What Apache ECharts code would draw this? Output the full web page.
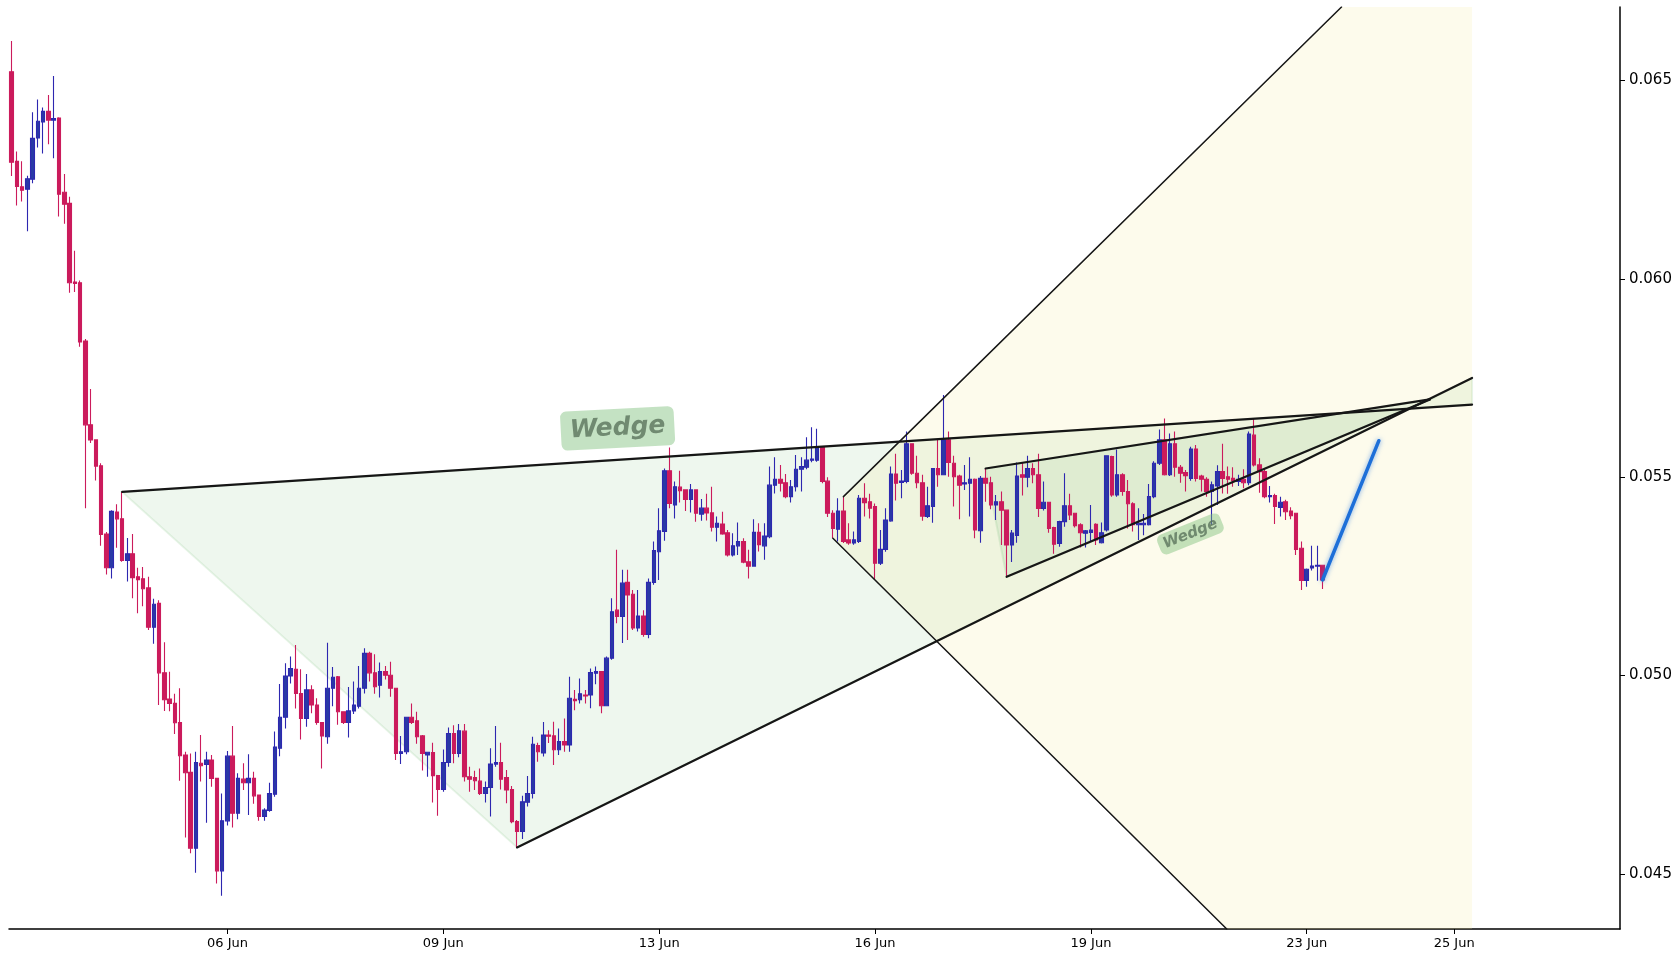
<!DOCTYPE html>
<html><head><meta charset="utf-8">
<script src="https://cdn.jsdelivr.net/npm/echarts@6/dist/echarts.min.js"></script>
<style>html,body{margin:0;padding:0;background:#fff}#c{width:1680px;height:960px}</style>
</head><body><div id="c"></div>
<script>
// ---- candle data (index = candle number) ----
const opens = [0.06522,0.06296,0.06232,0.06226,0.06251,0.06355,0.06395,0.06422,0.06400,0.06405,0.06218,0.06190,0.05992,0.05990,0.05843,0.05632,0.05594,0.05529,0.05357,0.05272,0.05412,0.05395,0.05290,0.05307,0.05249,0.05244,0.05221,0.05122,0.05182,0.05007,0.04941,0.04930,0.04882,0.04800,0.04756,0.04565,0.04779,0.04776,0.04787,0.04741,0.04508,0.04634,0.04797,0.04653,0.04739,0.04730,0.04741,0.04699,0.04645,0.04660,0.04701,0.04817,0.04895,0.04999,0.05016,0.04955,0.04892,0.04964,0.04926,0.04882,0.04846,0.04968,0.04997,0.04909,0.04882,0.04911,0.04923,0.04968,0.05056,0.05007,0.04976,0.05010,0.05001,0.04968,0.04804,0.04808,0.04895,0.04886,0.04848,0.04800,0.04806,0.04748,0.04713,0.04781,0.04854,0.04804,0.04860,0.04745,0.04743,0.04734,0.04703,0.04718,0.04777,0.04781,0.04743,0.04713,0.04632,0.04607,0.04681,0.04703,0.04824,0.04805,0.04850,0.04848,0.04813,0.04834,0.04825,0.04940,0.04939,0.04951,0.04951,0.05006,0.05010,0.04924,0.05044,0.05165,0.05149,0.05235,0.05205,0.05120,0.05150,0.05104,0.05235,0.05312,0.05363,0.05516,0.05430,0.05475,0.05468,0.05444,0.05468,0.05407,0.05422,0.05410,0.05374,0.05382,0.05360,0.05304,0.05327,0.05338,0.05287,0.05276,0.05361,0.05327,0.05350,0.05480,0.05495,0.05486,0.05451,0.05476,0.05520,0.05525,0.05543,0.05543,0.05575,0.05490,0.05409,0.05369,0.05415,0.05342,0.05334,0.05338,0.05447,0.05438,0.05426,0.05283,0.05318,0.05390,0.05508,0.05487,0.05489,0.05584,0.05510,0.05486,0.05401,0.05426,0.05522,0.05506,0.05594,0.05535,0.05503,0.05483,0.05485,0.05495,0.05365,0.05497,0.05486,0.05430,0.05438,0.05417,0.05329,0.05353,0.05506,0.05500,0.05522,0.05506,0.05421,0.05437,0.05373,0.05333,0.05388,0.05428,0.05409,0.05380,0.05359,0.05361,0.05381,0.05335,0.05367,0.05552,0.05455,0.05506,0.05464,0.05433,0.05380,0.05380,0.05380,0.05451,0.05535,0.05594,0.05506,0.05584,0.05525,0.05512,0.05497,0.05571,0.05503,0.05495,0.05464,0.05478,0.05514,0.05501,0.05497,0.05489,0.05495,0.05486,0.05606,0.05531,0.05514,0.05451,0.05454,0.05424,0.05438,0.05415,0.05409,0.05321,0.05240,0.05271,0.05276,0.05278];
const closes = [0.06294,0.06233,0.06223,0.06252,0.06354,0.06397,0.06422,0.06400,0.06404,0.06213,0.06188,0.05990,0.05988,0.05841,0.05632,0.05594,0.05528,0.05356,0.05272,0.05414,0.05395,0.05290,0.05307,0.05247,0.05242,0.05219,0.05122,0.05180,0.05007,0.04939,0.04930,0.04881,0.04798,0.04755,0.04565,0.04781,0.04773,0.04787,0.04741,0.04508,0.04634,0.04797,0.04653,0.04741,0.04730,0.04741,0.04697,0.04645,0.04661,0.04703,0.04820,0.04895,0.04999,0.05018,0.04955,0.04892,0.04964,0.04926,0.04882,0.04848,0.04968,0.04996,0.04909,0.04882,0.04911,0.04926,0.04968,0.05056,0.05007,0.04972,0.05010,0.05001,0.04968,0.04804,0.04808,0.04895,0.04882,0.04846,0.04804,0.04807,0.04748,0.04713,0.04781,0.04854,0.04804,0.04861,0.04745,0.04739,0.04735,0.04703,0.04718,0.04777,0.04781,0.04739,0.04712,0.04632,0.04607,0.04682,0.04703,0.04827,0.04808,0.04850,0.04847,0.04813,0.04834,0.04825,0.04943,0.04937,0.04954,0.04949,0.05008,0.05010,0.04924,0.05044,0.05161,0.05149,0.05233,0.05203,0.05120,0.05150,0.05104,0.05235,0.05315,0.05365,0.05516,0.05434,0.05476,0.05466,0.05444,0.05468,0.05409,0.05422,0.05410,0.05374,0.05384,0.05357,0.05304,0.05327,0.05338,0.05286,0.05276,0.05361,0.05330,0.05352,0.05480,0.05495,0.05485,0.05451,0.05476,0.05520,0.05527,0.05543,0.05546,0.05575,0.05489,0.05409,0.05371,0.05415,0.05338,0.05334,0.05342,0.05447,0.05436,0.05422,0.05283,0.05318,0.05392,0.05508,0.05485,0.05490,0.05584,0.05510,0.05486,0.05402,0.05428,0.05522,0.05506,0.05594,0.05537,0.05501,0.05480,0.05486,0.05495,0.05367,0.05497,0.05485,0.05430,0.05438,0.05417,0.05329,0.05359,0.05503,0.05500,0.05522,0.05506,0.05421,0.05437,0.05371,0.05331,0.05388,0.05428,0.05405,0.05378,0.05360,0.05365,0.05367,0.05342,0.05360,0.05554,0.05455,0.05506,0.05464,0.05433,0.05380,0.05384,0.05384,0.05451,0.05535,0.05594,0.05506,0.05584,0.05525,0.05510,0.05504,0.05571,0.05497,0.05495,0.05464,0.05481,0.05514,0.05497,0.05495,0.05491,0.05495,0.05486,0.05609,0.05531,0.05514,0.05451,0.05454,0.05426,0.05437,0.05413,0.05403,0.05318,0.05240,0.05268,0.05276,0.05278,0.05241];
const lows = [0.06259,0.06185,0.06195,0.06120,0.06241,0.06331,0.06316,0.06339,0.06304,0.06157,0.06139,0.05965,0.05967,0.05829,0.05422,0.05586,0.05492,0.05327,0.05255,0.05245,0.05322,0.05287,0.05237,0.05195,0.05157,0.05175,0.05115,0.05080,0.04926,0.04911,0.04910,0.04853,0.04735,0.04592,0.04552,0.04503,0.04733,0.04629,0.04720,0.04476,0.04445,0.04622,0.04617,0.04638,0.04712,0.04649,0.04677,0.04634,0.04634,0.04657,0.04695,0.04797,0.04867,0.04980,0.04917,0.04839,0.04871,0.04905,0.04876,0.04766,0.04828,0.04923,0.04876,0.04878,0.04844,0.04903,0.04917,0.04955,0.04985,0.04954,0.04945,0.04990,0.04947,0.04787,0.04777,0.04802,0.04878,0.04828,0.04761,0.04745,0.04680,0.04647,0.04707,0.04770,0.04779,0.04794,0.04733,0.04707,0.04712,0.04699,0.04680,0.04645,0.04770,0.04713,0.04678,0.04628,0.04567,0.04588,0.04670,0.04690,0.04783,0.04796,0.04830,0.04775,0.04800,0.04808,0.04808,0.04913,0.04930,0.04930,0.04918,0.04978,0.04905,0.04924,0.05040,0.05132,0.05082,0.05090,0.05115,0.05111,0.05098,0.05094,0.05229,0.05241,0.05340,0.05422,0.05396,0.05436,0.05415,0.05411,0.05388,0.05390,0.05391,0.05363,0.05338,0.05355,0.05300,0.05300,0.05304,0.05283,0.05245,0.05275,0.05313,0.05292,0.05346,0.05459,0.05464,0.05447,0.05436,0.05464,0.05464,0.05520,0.05538,0.05539,0.05485,0.05400,0.05346,0.05338,0.05334,0.05330,0.05330,0.05334,0.05401,0.05396,0.05243,0.05279,0.05312,0.05388,0.05441,0.05447,0.05485,0.05506,0.05472,0.05390,0.05397,0.05385,0.05476,0.05506,0.05501,0.05426,0.05394,0.05468,0.05401,0.05346,0.05335,0.05438,0.05419,0.05392,0.05329,0.05249,0.05286,0.05335,0.05454,0.05475,0.05485,0.05400,0.05416,0.05360,0.05307,0.05325,0.05375,0.05392,0.05373,0.05323,0.05323,0.05337,0.05329,0.05333,0.05363,0.05451,0.05451,0.05453,0.05371,0.05363,0.05342,0.05354,0.05378,0.05447,0.05531,0.05504,0.05503,0.05501,0.05486,0.05464,0.05491,0.05489,0.05464,0.05451,0.05380,0.05430,0.05459,0.05458,0.05476,0.05478,0.05472,0.05480,0.05527,0.05461,0.05447,0.05436,0.05382,0.05401,0.05392,0.05394,0.05304,0.05216,0.05224,0.05265,0.05239,0.05218];
const highs = [0.06599,0.06321,0.06296,0.06260,0.06420,0.06452,0.06432,0.06463,0.06511,0.06407,0.06264,0.06207,0.06071,0.05996,0.05848,0.05722,0.05594,0.05535,0.05362,0.05417,0.05432,0.05463,0.05347,0.05357,0.05272,0.05274,0.05249,0.05194,0.05190,0.05084,0.05010,0.04954,0.04968,0.04808,0.04804,0.04808,0.04850,0.04808,0.04800,0.04741,0.04703,0.04810,0.04873,0.04754,0.04779,0.04802,0.04758,0.04699,0.04666,0.04730,0.04859,0.04979,0.05031,0.05048,0.05077,0.05016,0.05004,0.04976,0.04943,0.04882,0.05083,0.05022,0.04999,0.04909,0.04971,0.04985,0.05024,0.05069,0.05060,0.05054,0.05033,0.05024,0.05035,0.04968,0.04848,0.04895,0.04930,0.04909,0.04850,0.04808,0.04831,0.04748,0.04814,0.04869,0.04875,0.04878,0.04878,0.04770,0.04760,0.04766,0.04733,0.04817,0.04873,0.04831,0.04762,0.04722,0.04636,0.04697,0.04747,0.04846,0.04831,0.04883,0.04862,0.04884,0.04867,0.04892,0.04997,0.04964,0.04993,0.04964,0.05018,0.05023,0.05010,0.05048,0.05195,0.05317,0.05267,0.05267,0.05216,0.05216,0.05165,0.05245,0.05338,0.05422,0.05522,0.05575,0.05489,0.05516,0.05468,0.05483,0.05468,0.05445,0.05458,0.05476,0.05401,0.05413,0.05367,0.05359,0.05386,0.05346,0.05317,0.05394,0.05384,0.05384,0.05527,0.05550,0.05531,0.05508,0.05493,0.05556,0.05550,0.05601,0.05626,0.05622,0.05577,0.05500,0.05417,0.05447,0.05451,0.05384,0.05363,0.05455,0.05485,0.05458,0.05434,0.05367,0.05422,0.05527,0.05559,0.05518,0.05615,0.05585,0.05554,0.05506,0.05476,0.05522,0.05594,0.05707,0.05615,0.05554,0.05506,0.05531,0.05550,0.05497,0.05503,0.05522,0.05501,0.05455,0.05464,0.05417,0.05367,0.05537,0.05537,0.05554,0.05535,0.05559,0.05489,0.05438,0.05375,0.05390,0.05510,0.05458,0.05409,0.05384,0.05367,0.05430,0.05384,0.05386,0.05554,0.05554,0.05570,0.05510,0.05493,0.05437,0.05422,0.05407,0.05483,0.05540,0.05620,0.05648,0.05610,0.05615,0.05531,0.05518,0.05577,0.05581,0.05506,0.05500,0.05489,0.05530,0.05584,0.05527,0.05525,0.05506,0.05520,0.05615,0.05648,0.05548,0.05522,0.05478,0.05458,0.05451,0.05443,0.05424,0.05410,0.05338,0.05270,0.05327,0.05327,0.05278];

// ---- axis ticks ----
const tickIndex = [41, 82, 123, 164, 205, 246, 274];
const tickLabels = ['06 Jun', '09 Jun', '13 Jun', '16 Jun', '19 Jun', '23 Jun', '25 Jun'];
const yTicks = [0.045, 0.050, 0.055, 0.060, 0.065];
const slotCount = 306;              // candle slots on the x axis (data + empty future)
const yMin = 0.043614, yMax = 0.06685;

// ---- drawings, in (candle index, price) ----
const bigWedgeUpper = [[21, 0.05463], [277.4, 0.05683]];
const bigWedgeLower = [[96, 0.04567], [277.4, 0.05750]];
const smallWedgeUpper = [[185, 0.05522], [269.4, 0.05696]];
const smallWedgeLower = [[189, 0.05249], [269.4, 0.05696]];
const fanUpper = [[158, 0.05451], [252.6, yMax]];
const fanLower = [[156, 0.05346], [230.8, yMin]];
const fanRightEdge = 277.4;
const projection = [[249, 0.05241], [259.7, 0.05592]];
const bigLabelAt = [115.1, 0.05623];
const smallLabelAt = [223.9, 0.05357];

const candles = opens.map((o, i) => [o, closes[i], lows[i], highs[i]]);
const categories = Array.from({length: slotCount}, (_, i) => String(i));

function polygon(points, fill, stroke, z) {
  return {
    type: 'custom', xAxisIndex: 1, yAxisIndex: 0, z: z, silent: true,
    data: [[0, 0]],
    renderItem: function (params, api) {
      return {type: 'polygon', shape: {points: points.map(p => api.coord(p))},
        style: {fill: fill, stroke: stroke, lineWidth: stroke ? 2 : 0}};
    }
  };
}
function seg(points, color, width, z, extra) {
  return Object.assign({
    type: 'line', xAxisIndex: 1, yAxisIndex: 0, data: points, showSymbol: false,
    symbol: 'none', silent: true, z: z,
    lineStyle: {color: color, width: width, cap: 'round'}
  }, extra || {});
}
function label(at, text, size, rot, pad) {
  return {
    type: 'scatter', xAxisIndex: 1, yAxisIndex: 0, data: [at], symbolSize: 0.1, silent: true, z: 6,
    itemStyle: {color: 'transparent'},
    label: {show: true, position: 'inside', formatter: text, rotate: rot,
      fontFamily: 'DejaVu Sans', fontWeight: 'bold', fontStyle: 'italic', fontSize: size,
      color: '#5b745c', backgroundColor: 'rgba(120,190,118,0.55)', borderRadius: 6, padding: pad}
  };
}

const chart = echarts.init(document.getElementById('c'), null, {renderer: 'canvas'});
const isTick = (index) => tickIndex.indexOf(index) >= 0;
chart.setOption({
  animation: false,
  backgroundColor: '#ffffff',
  grid: {left: 9, right: 60, top: 7, bottom: 31, containLabel: false},
  xAxis: [{
    type: 'category', data: categories, boundaryGap: true,
    axisLine: {onZero: false, lineStyle: {color: '#000', width: 1.5}},
    axisTick: {show: true, alignWithLabel: true, interval: isTick, length: 5, lineStyle: {color: '#000', width: 1}},
    axisLabel: {interval: isTick, margin: 8, fontSize: 13, color: '#000', fontFamily: 'DejaVu Sans',
      formatter: (v, i) => { const k = tickIndex.indexOf(Number(v)); return k >= 0 ? tickLabels[k] : ''; }},
    splitLine: {show: false}
  }, {
    type: 'value', min: -0.5, max: slotCount - 0.5, show: false
  }],
  yAxis: [{
    type: 'value', position: 'right', min: yMin, max: yMax, scale: true,
    axisLine: {show: true, onZero: false, lineStyle: {color: '#000', width: 1.5}},
    axisTick: {show: true, length: 5, lineStyle: {color: '#000'}, customValues: yTicks},
    axisLabel: {margin: 9, fontSize: 15, color: '#000', fontFamily: 'DejaVu Sans', customValues: yTicks,
      formatter: v => (Math.abs(v * 200 - Math.round(v * 200)) < 1e-6 ? v.toFixed(3) : '')},
    splitLine: {show: false}
  }],
  series: [
    polygon([bigWedgeUpper[0], bigWedgeUpper[1], bigWedgeLower[1], bigWedgeLower[0]],
      'rgba(144,200,144,0.15)', 'rgba(150,205,150,0.22)', 1),
    polygon([fanUpper[0], fanUpper[1], [fanRightEdge, yMax], [fanRightEdge, yMin], fanLower[1], fanLower[0]],
      'rgba(245,235,160,0.2)', null, 1),
    polygon([smallWedgeUpper[0], smallWedgeUpper[1], smallWedgeLower[0]],
      'rgba(144,200,144,0.16)', 'rgba(150,205,150,0.25)', 1),
    {
      type: 'candlestick', xAxisIndex: 0, yAxisIndex: 0, data: candles, barWidth: 4, z: 2,
      itemStyle: {color: '#2a39a6', color0: '#cb1b5c', borderColor: '#2d27b0', borderColor0: '#cb1b5c', borderWidth: 1.1}
    },
    seg(bigWedgeUpper, '#161616', 2.2, 3),
    seg(bigWedgeLower, '#161616', 2.2, 3),
    seg(smallWedgeUpper, '#161616', 2.2, 3),
    seg(smallWedgeLower, '#161616', 2.2, 3),
    seg(fanUpper, '#161616', 1.5, 3),
    seg(fanLower, '#161616', 1.5, 3),
    seg(projection, '#1d6fd8', 3.5, 4, {lineStyle: {color: '#1d6fd8', width: 3.5, cap: 'round',
      shadowColor: 'rgba(40,120,230,0.6)', shadowBlur: 5}}),
    label(bigLabelAt, 'Wedge', 25, 3, [7, 9, 7, 9]),
    label(smallLabelAt, 'Wedge', 15, 22, [3, 5, 3, 5])
  ]
});
</script></body></html>
